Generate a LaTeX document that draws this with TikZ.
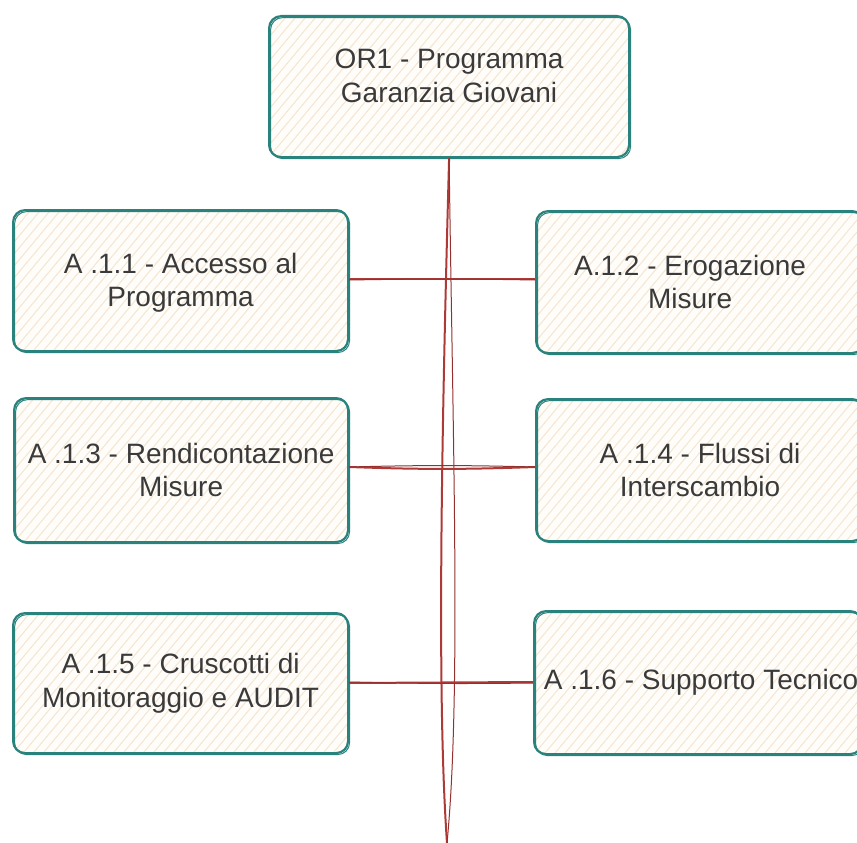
\documentclass[tikz,border=0pt]{standalone}
\usepackage{fontspec}
\setmainfont{Liberation Sans}
\usetikzlibrary{calc}
\definecolor{tealc}{HTML}{2A827D}
\definecolor{hatchc}{HTML}{F5E5D2}
\definecolor{fillc}{HTML}{FFFDF9}
\definecolor{redc}{HTML}{AE3A37}
\definecolor{txtc}{HTML}{3A3A3A}
\tikzset{
  sketchbox/.style={draw=tealc, line width=2.2pt, rounded corners=12pt,
    fill=fillc, anchor=north west, inner sep=0pt,
    path picture={
      \foreach \k in {-300,-290,...,400}
        \draw[hatchc, line width=1pt]
          ([xshift=\k pt]path picture bounding box.south west) -- ++(250pt,300pt);
    },
    postaction={draw=tealc, line width=1pt, rounded corners=12pt,
      transform canvas={shift={(1.5pt,-1.5pt)}}}},
  lbl/.style={align=center, text=txtc, inner sep=0pt,
    font=\fontsize{28}{33.6}\selectfont},
  redline/.style={draw=redc, line width=2pt},
  redthin/.style={draw=redc!85!black, line width=1pt}
}
\begin{document}
\begin{tikzpicture}[x=1pt,y=-1pt]
\useasboundingbox (0,0) rectangle (857,843);
\clip (0,0) rectangle (857,843);

% boxes
\node[sketchbox, minimum width=360pt, minimum height=141pt] (top) at (268,15) {};
\node[sketchbox, minimum width=335pt, minimum height=141pt] (a11) at (12,209) {};
\node[sketchbox, minimum width=328pt, minimum height=142pt] (a12) at (535,210) {};
\node[sketchbox, minimum width=334pt, minimum height=144pt] (a13) at (13,397) {};
\node[sketchbox, minimum width=328pt, minimum height=142pt] (a14) at (535,398) {};
\node[sketchbox, minimum width=335pt, minimum height=140pt] (a15) at (12,612) {};
\node[sketchbox, minimum width=328pt, minimum height=143pt] (a16) at (533,610) {};

% texts
\node[lbl] (ttop) at ($(top.center)+(0,-11)$) {OR1 - Programma\\Garanzia Giovani};
\node[lbl] (t11) at ($(a11.center)+(0,2)$) {A .1.1 - Accesso al\\Programma};
\node[lbl] (t12) at ($(a12.center)+(-10,0)$) {A.1.2 - Erogazione\\Misure};
\node[lbl] (t13) at ($(a13.center)+(0,0)$) {A .1.3 - Rendicontazione\\Misure};
\node[lbl] (t14) at ($(a14.center)+(0,0)$) {A .1.4 - Flussi di\\Interscambio};
\node[lbl] (t15) at ($(a15.center)+(0,0)$) {A .1.5 - Cruscotti di\\Monitoraggio e AUDIT};
\node[lbl] (t16) at ($(a16.center)+(3,0)$) {A .1.6 - Supporto Tecnico};

% connectors
\coordinate (bot) at (447,843);
\draw[redline] (top.south) .. controls +(-8,293) and +(-10,-143) .. (bot);
\draw[redthin] (top.south) .. controls +(4,293) and +(14,-143) .. (bot);

\draw[redline] (a11.east |- 0,279) -- (a12.west |- 0,279);
\draw[redthin] (a11.east |- 0,280) to[bend left=1] (a12.west |- 0,280);

\draw[redline] (a13.east |- 0,467) to[bend right=2] (a14.west |- 0,467);
\draw[redthin] (a13.east |- 0,467) to[bend left=1.5] (a14.west |- 0,467);

\draw[redline] (a15.east |- 0,683) -- (a16.west |- 0,682);
\draw[redthin] (a15.east |- 0,682) to[bend right=1] (a16.west |- 0,683);
\end{tikzpicture}
\end{document}
